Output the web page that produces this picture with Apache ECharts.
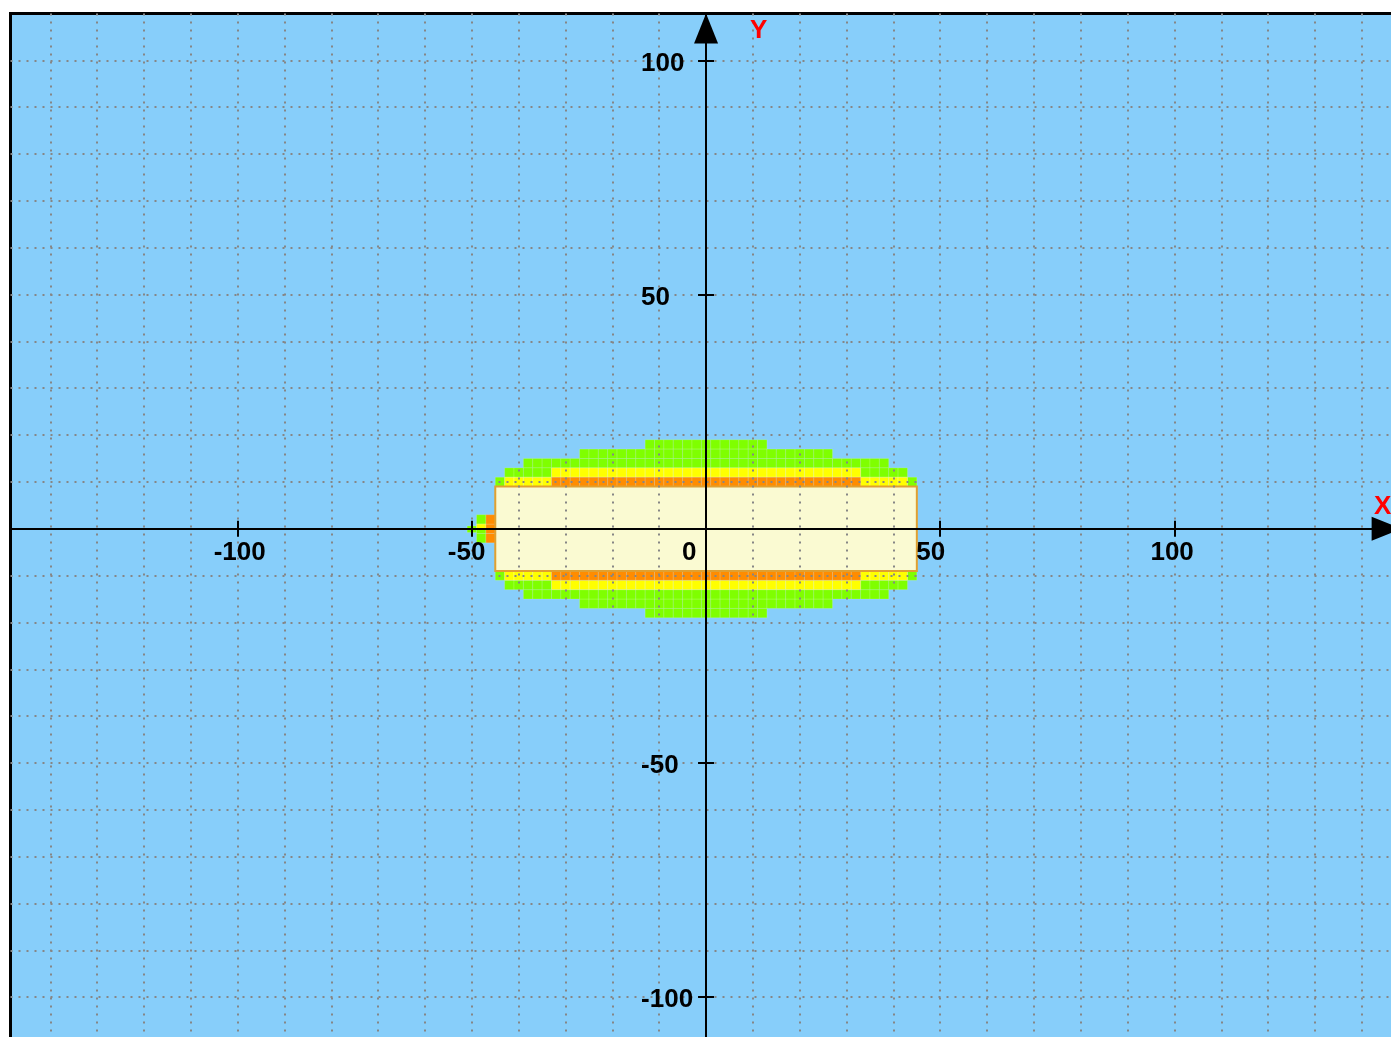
<!DOCTYPE html>
<html>
<head>
<meta charset="utf-8">
<title>Zone map</title>
<script src="https://cdn.jsdelivr.net/npm/echarts@6/dist/echarts.min.js"></script>
<style>
  html, body { margin: 0; padding: 0; overflow: hidden; background: #ffffff; }
  #chart { width: 1420px; height: 1060px; }
</style>
</head>
<body>
<div id="chart"></div>
<script>
// Axis ranges (data units)
const xRange = [-148.5, 148.5];
const yRange = [-110, 110];

// Tick marks and tick labels
const xTickValues = [-100, -50, 50, 100];
const yTickValues = [-100, -50, 50, 100];
const xTickLabels = [-100, -50, 0, 50, 100];
const yTickLabels = [-100, -50, 50, 100];

// Zones as rectangles [x0, x1, y0, y1]
const greenZone = [
  [-13, 13, 17, 19], [-13, 13, -19, -17],
  [-27, 27, 15, 17], [-27, 27, -17, -15],
  [-39, 39, 13, 15], [-39, 39, -15, -13],
  [-43, -33, 11, 13], [33, 43, 11, 13], [-43, -33, -13, -11], [33, 43, -13, -11],
  [-45, -43, 9, 11], [43, 45, 9, 11], [-45, -43, -11, -9], [43, 45, -11, -9],
  [-49, -47, 1, 3], [-49, -47, -3, 0], [-51, -49, -0.8, 0.6]
];
const yellowZone = [
  [-33, 33, 11, 13], [-33, 33, -13, -11],
  [-43, -33, 9, 11], [33, 43, 9, 11], [-43, -33, -11, -9], [33, 43, -11, -9],
  [-49, -47, 0, 1]
];
const orangeZone = [
  [-33, 33, 9, 11], [-33, 33, -11, -9],
  [-47, -45, -3, 3]
];
const coreZone = [
  [-45, 45, -9, 9]
];

const CELL = 2; // cell size in data units

// Plot area
const GRID = { left: 10.5, top: 13.5, width: 1391.1, height: 1030.5 };

// Pixel distance of the zero lines from the plot edges
const zeroFromLeft = GRID.width * (0 - xRange[0]) / (xRange[1] - xRange[0]);
const zeroFromTop = GRID.height * (yRange[1] - 0) / (yRange[1] - yRange[0]);

// Break each zone into square cells
function toCells(zones, step) {
  const out = [];
  zones.forEach(function (z) {
    const x0 = z[0], x1 = z[1], y0 = z[2], y1 = z[3];
    for (let x = x0; x < x1 - 1e-9; x += step) {
      for (let y = y0; y < y1 - 1e-9; y += step) {
        out.push([x, Math.min(x + step, x1), y, Math.min(y + step, y1)]);
      }
    }
  });
  return out;
}

function rectRenderer(fill, stroke, lineWidth) {
  return function (params, api) {
    const a = api.coord([api.value(0), api.value(3)]);
    const b = api.coord([api.value(1), api.value(2)]);
    return {
      type: 'rect',
      shape: { x: a[0], y: a[1], width: b[0] - a[0], height: b[1] - a[1] },
      style: { fill: fill, stroke: stroke, lineWidth: lineWidth }
    };
  };
}

function zoneSeries(name, data, fill, stroke, lineWidth) {
  return {
    type: 'custom',
    name: name,
    coordinateSystem: 'cartesian2d',
    xAxisIndex: 0,
    yAxisIndex: 0,
    z: 2,
    silent: true,
    encode: { x: [0, 1], y: [2, 3] },
    renderItem: rectRenderer(fill, stroke, lineWidth),
    data: data
  };
}

const FONT = '"Liberation Sans", Arial, sans-serif';
const labelFont = { fontFamily: FONT, fontSize: 26, fontWeight: 'bold', color: '#000' };

const gridSplit = {
  show: true,
  showMinLine: false,
  showMaxLine: false,
  lineStyle: { color: '#868686', width: 2, type: [2, 6] }
};

const arrowLine = {
  show: true,
  onZero: true,
  onZeroAxisIndex: 0,
  symbol: ['none', 'triangle'],
  symbolSize: [24, 30],
  symbolOffset: [0, -15],
  lineStyle: { color: '#000', width: 2 }
};

const noLine = { show: false, onZero: false };
const tickStyle = { lineStyle: { color: '#000', width: 2 }, length: 8 };

function baseAxis(range) {
  return {
    type: 'value',
    min: range[0],
    max: range[1],
    z: 5,
    splitNumber: 30,
    minInterval: 10,
    maxInterval: 10
  };
}

const chart = echarts.init(document.getElementById('chart'), null, { renderer: 'canvas' });

const option = {
  animation: false,
  backgroundColor: '#ffffff',
  grid: {
    left: GRID.left,
    top: GRID.top,
    width: GRID.width,
    height: GRID.height,
    show: true,
    backgroundColor: '#87cefa',
    borderColor: '#000',
    borderWidth: 3,
    containLabel: false,
    outerBoundsMode: 'none'
  },
  xAxis: [
    // grid lines, axis line with arrow, name
    Object.assign(baseAxis(xRange), {
      position: 'bottom',
      name: 'X',
      nameLocation: 'end',
      nameGap: -19,
      nameTextStyle: {
        fontFamily: FONT, fontSize: 26, fontWeight: 'bold', color: '#ff0000',
        align: 'center', verticalAlign: 'bottom', padding: [0, 0, 9, 0]
      },
      axisLine: arrowLine,
      axisTick: { show: false },
      axisLabel: { show: false },
      splitLine: gridSplit
    }),
    // lower tick halves and labels, moved up onto y = 0
    Object.assign(baseAxis(xRange), {
      position: 'bottom',
      offset: zeroFromTop - GRID.height,
      axisLine: noLine,
      axisTick: Object.assign({ show: true, customValues: xTickValues }, tickStyle),
      axisLabel: {
        show: true,
        customValues: xTickLabels,
        margin: 10.5,
        formatter: function (v) { return '{t|' + v + '}'; },
        rich: { t: Object.assign({ width: 48, align: 'left', lineHeight: 28 }, labelFont) },
        fontFamily: FONT, fontSize: 26, fontWeight: 'bold', color: '#000'
      },
      splitLine: { show: false }
    }),
    // upper tick halves
    Object.assign(baseAxis(xRange), {
      position: 'top',
      offset: -zeroFromTop,
      axisLine: noLine,
      axisTick: Object.assign({ show: true, customValues: xTickValues }, tickStyle),
      axisLabel: { show: false },
      splitLine: { show: false }
    })
  ],
  yAxis: [
    Object.assign(baseAxis(yRange), {
      position: 'left',
      splitNumber: 22,
      name: 'Y',
      nameLocation: 'end',
      nameGap: -17.5,
      nameTextStyle: {
        fontFamily: FONT, fontSize: 26, fontWeight: 'bold', color: '#ff0000',
        align: 'left', verticalAlign: 'middle', padding: [0, 0, 0, 44]
      },
      axisLine: arrowLine,
      axisTick: { show: false },
      axisLabel: { show: false },
      splitLine: gridSplit
    }),
    Object.assign(baseAxis(yRange), {
      position: 'left',
      splitNumber: 22,
      offset: -zeroFromLeft,
      axisLine: noLine,
      axisTick: Object.assign({ show: true, customValues: yTickValues }, tickStyle),
      axisLabel: Object.assign({
        show: true,
        customValues: yTickLabels,
        margin: 65,
        align: 'left',
        verticalAlign: 'top',
        lineHeight: 6
      }, labelFont),
      splitLine: { show: false }
    }),
    Object.assign(baseAxis(yRange), {
      position: 'right',
      splitNumber: 22,
      offset: zeroFromLeft - GRID.width,
      axisLine: noLine,
      axisTick: Object.assign({ show: true, customValues: yTickValues }, tickStyle),
      axisLabel: { show: false },
      splitLine: { show: false }
    })
  ],
  series: [
    zoneSeries('green', toCells(greenZone, CELL), '#7fff00', 'rgba(255,255,255,0.15)', 1),
    zoneSeries('yellow', toCells(yellowZone, CELL), '#ffff00', 'rgba(255,255,255,0.22)', 1),
    zoneSeries('orange', toCells(orangeZone, CELL), '#ff8c00', 'rgba(255,255,255,0.15)', 1),
    zoneSeries('core', coreZone, '#fafad2', '#e0a030', 2)
  ]
};

chart.setOption(option);
</script>
</body>
</html>
